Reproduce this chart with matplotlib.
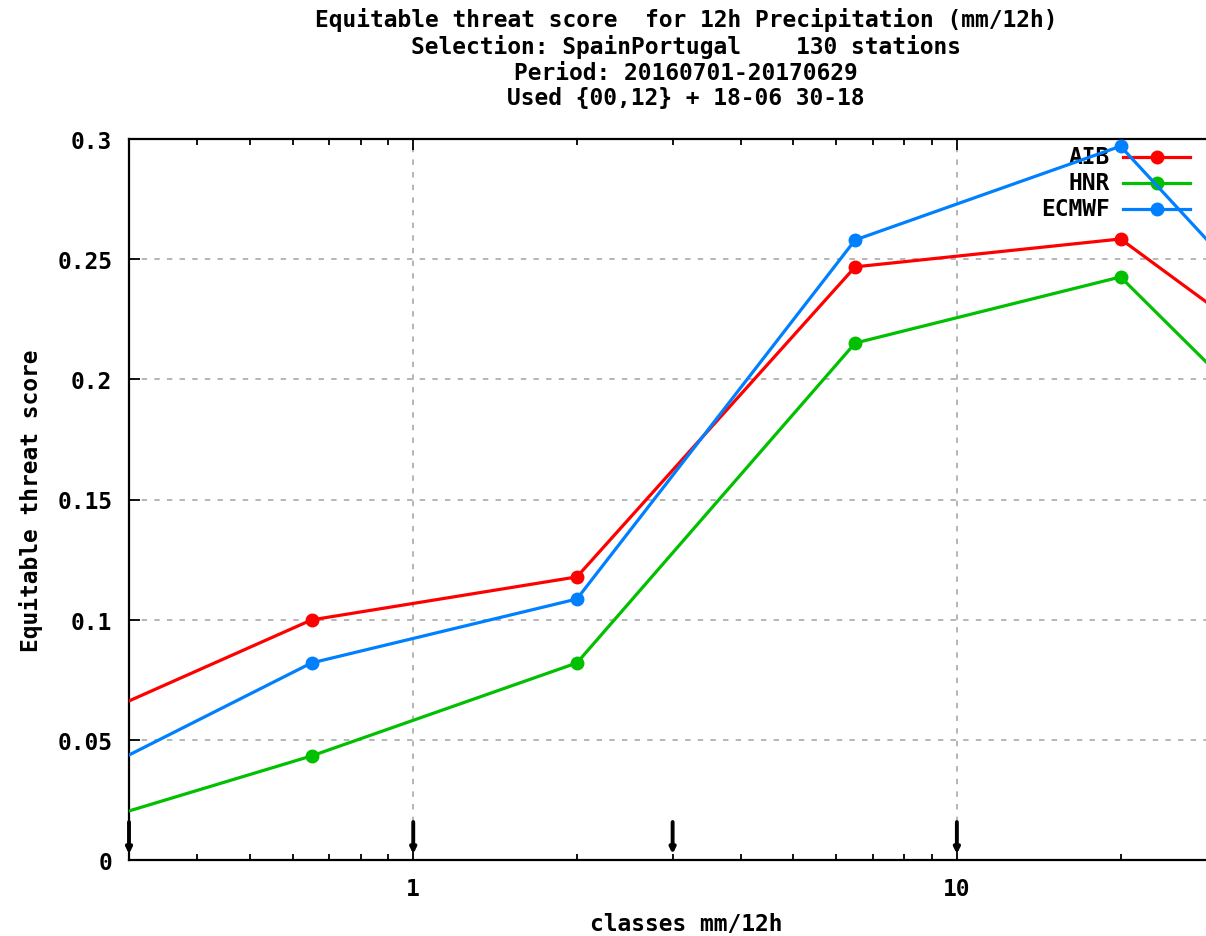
import numpy as np
import matplotlib
matplotlib.use("Agg")
import matplotlib.pyplot as plt
from matplotlib.lines import Line2D

Red   = (1.0, 0.0, 0.0)
Green = (0.0, 192/255, 0.0)
Blue  = (0.0, 128/255, 1.0)

# class thresholds (mm/12h) and class mid points
thresholds = [0.3, 1, 3, 10, 30]
classes    = [0.2, 0.65, 2.0, 6.5, 20.0, 40.0]

ets_aib   = [0.0485, 0.0999, 0.1178, 0.2468, 0.2584, 0.2084]
ets_hnr   = [0.0084, 0.0433, 0.0820, 0.2151, 0.2426, 0.1750]
ets_ecmwf = [0.0236, 0.0820, 0.1086, 0.2580, 0.2970, 0.2233]

series = [("AIB", ets_aib, Red), ("HNR", ets_hnr, Green), ("ECMWF", ets_ecmwf, Blue)]

plt.rcParams['font.family'] = 'DejaVu Sans Mono'
plt.rcParams['font.weight'] = 'bold'
plt.rcParams['axes.labelweight'] = 'bold'
fs = 16.5

W, H = 1206, 937
fig = plt.figure(figsize=(W/100, H/100), dpi=100)
ax = fig.add_axes([129/W, 1 - 861/H, (1243-129)/W, (861-140)/H])

for name, vals, col in series:
    ax.plot(classes, vals, '-o', color=col, lw=2.3, ms=9, mec=col, zorder=3)

# threshold arrows
for t in thresholds:
    ax.annotate('', xy=(t, 0.0025), xytext=(t, 0.0158),
                arrowprops=dict(arrowstyle='-|>', lw=2.8, color='black',
                                mutation_scale=8, shrinkA=0, shrinkB=0),
                annotation_clip=False, zorder=4)

ax.set_xscale('log')
ax.set_xlim(0.3, 33.6)
ax.set_ylim(0, 0.3)
ax.set_yticks([0, 0.05, 0.1, 0.15, 0.2, 0.25, 0.3])
ax.set_yticklabels(['0', '0.05', '0.1', '0.15', '0.2', '0.25', '0.3'])
ax.set_xticks([1, 10])
ax.set_xticklabels(['1', '10'])
ax.xaxis.set_minor_locator(matplotlib.ticker.LogLocator(base=10, subs=np.arange(2, 10)))
ax.xaxis.set_minor_formatter(matplotlib.ticker.NullFormatter())

ax.tick_params(which='major', direction='in', length=8, width=1.3, top=True, right=True,
               labelsize=fs, pad=12)
ax.tick_params(which='minor', direction='in', length=4, width=1.3, top=True, right=True)
for s in ax.spines.values():
    s.set_linewidth(1.6)

for y in [0.05, 0.1, 0.15, 0.2, 0.25]:
    ax.axhline(y, color='#b0b0b0', lw=1.3, ls=(0, (3, 4)), zorder=1)
for x in [1, 10]:
    ax.axvline(x, color='#b0b0b0', lw=1.3, ls=(0, (3, 4)), zorder=1)

ax.set_xlabel('classes mm/12h', fontsize=fs, fontweight='bold', labelpad=9)
ax.set_ylabel('Equitable threat score', fontsize=fs, fontweight='bold', labelpad=10)

fig.text(686/W, 1 - 8/H,
         'Equitable threat score  for 12h Precipitation (mm/12h)\n'
         'Selection: SpainPortugal    130 stations\n'
         'Period: 20160701-20170629\n'
         'Used {00,12} + 18-06 30-18',
         ha='center', va='top', fontsize=fs, linespacing=1.15, multialignment='center')

# key, drawn below the data lines
for i, (name, vals, col) in enumerate(series):
    yk = 1 - (158 + 26*i)/H
    ax.text(1110/W, yk, name, transform=fig.transFigure, ha='right', va='center',
            fontsize=fs, zorder=1)
    ax.add_line(Line2D([1123/W, 1190/W], [yk, yk], transform=fig.transFigure,
                       color=col, lw=2.3, zorder=1, clip_on=False))
    ax.add_line(Line2D([1157/W], [yk], transform=fig.transFigure, marker='o', ms=9,
                       color=col, zorder=1, clip_on=False))

fig.savefig('out.png', dpi=100)
